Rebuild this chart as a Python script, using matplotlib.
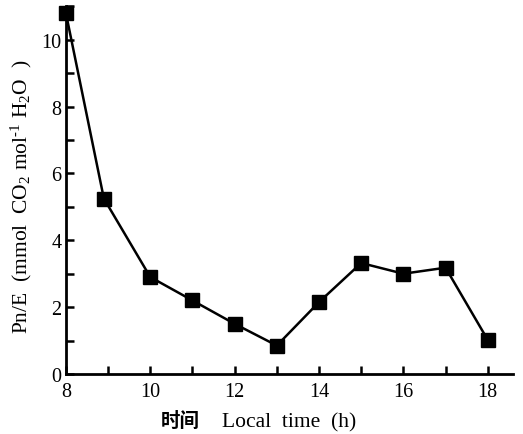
import matplotlib
matplotlib.use('Agg')
import matplotlib.pyplot as plt
from matplotlib.ticker import MultipleLocator

# data
hours = [8.0, 8.9, 10.0, 11.0, 12.0, 13.0, 14.0, 15.0, 16.0, 17.0, 18.0]
pn_e = [10.8, 5.25, 2.9, 2.2, 1.5, 0.85, 2.15, 3.32, 3.0, 3.18, 1.02]
xticks = [8, 10, 12, 14, 16, 18]
yticks = [0, 2, 4, 6, 8, 10]

plt.rcParams['font.family'] = ['Liberation Serif', 'Noto Sans CJK SC']
plt.rcParams['mathtext.fontset'] = 'custom'
plt.rcParams['mathtext.rm'] = 'Liberation Serif'
plt.rcParams['mathtext.it'] = 'Liberation Serif:italic'

fig = plt.figure(figsize=(5.23, 4.35), dpi=100)
ax = fig.add_axes([0.126, 0.138, 0.855, 0.845])

ax.plot(hours, pn_e, color='black', linewidth=1.8, marker='s',
        markersize=9.5, clip_on=False, zorder=3)

ax.set_xlim(8, 18.6)
ax.set_ylim(0, 11.0)
ax.set_xticks(xticks)
ax.set_yticks(yticks)
ax.xaxis.set_minor_locator(MultipleLocator(1))
ax.yaxis.set_minor_locator(MultipleLocator(1))
ax.tick_params(which='both', direction='in', length=6, width=1.8,
               labelsize=14.5)
ax.tick_params(axis='x', pad=6)
ax.tick_params(axis='y', pad=3)

for side in ['top', 'right']:
    ax.spines[side].set_visible(False)
for side in ['left', 'bottom']:
    ax.spines[side].set_linewidth(2)

# x label: bold-looking Chinese part, then serif English part
ax.text(0.30, -0.100, '时间', transform=ax.transAxes, fontsize=14,
        fontweight='bold', family='Noto Sans CJK SC', ha='right', va='top')
ax.text(0.349, -0.105, 'Local  time  (h)', transform=ax.transAxes,
        fontsize=15.5, ha='left', va='top')

ax.set_ylabel(r'Pn/E  (mmol  CO$_2$ mol$^{\text{-1}}$ H$_2$O  )', fontsize=15.5)
ax.yaxis.set_label_coords(-0.072, 0.485)

fig.savefig('out.png', dpi=100)
